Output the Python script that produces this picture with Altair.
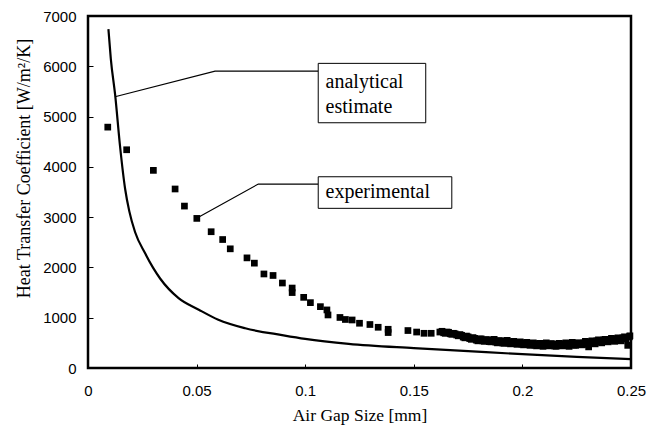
import altair as alt
import pandas as pd

# ---------------- data ----------------
x_ticks = [0, 0.05, 0.1, 0.15, 0.2, 0.25]
y_ticks = [0, 1000, 2000, 3000, 4000, 5000, 6000, 7000]

# analytical estimate (solid curve)
ana_x = [0.0094, 0.0105, 0.0125, 0.0148, 0.0171, 0.0190, 0.0217, 0.0263, 0.0300,
         0.0332, 0.0417, 0.0510, 0.0600, 0.0724, 0.0900, 0.1000, 0.1200, 0.1500,
         0.1750, 0.2000, 0.2250, 0.2500]
ana_y = [6740, 6150, 5430, 4390, 3560, 3120, 2700, 2280, 1990,
         1780, 1390, 1160, 960, 790, 650, 580, 480, 395,
         335, 275, 220, 175]

# experimental (square markers) - sparse part
exp_x = [0.0091, 0.0178, 0.0301, 0.0401, 0.0444, 0.0501, 0.0567, 0.0620, 0.0655,
         0.0732, 0.0766, 0.0810, 0.0852, 0.0895, 0.0940, 0.0940, 0.0993, 0.1024,
         0.1070, 0.1100, 0.1105, 0.1160, 0.1185, 0.1216, 0.1250, 0.1298, 0.1336,
         0.1382, 0.1382, 0.1473, 0.1513, 0.1547, 0.1580, 0.1620]
exp_y = [4790, 4340, 3930, 3560, 3220, 2975, 2710, 2555, 2370,
         2190, 2085, 1870, 1840, 1690, 1590, 1500, 1405, 1300,
         1220, 1155, 1055, 1005, 965, 955, 890, 865, 810,
         770, 705, 745, 715, 690, 690, 715]

# experimental - dense part (two interleaved runs of readings)
cloud_x = [0.1630, 0.1645, 0.1660, 0.1675, 0.1690, 0.1705, 0.1720, 0.1735, 0.1750,
           0.1765, 0.1780, 0.1795, 0.1810, 0.1825, 0.1840, 0.1855, 0.1870, 0.1885,
           0.1900, 0.1915, 0.1930, 0.1945, 0.1960, 0.1975, 0.1990, 0.2005, 0.2020,
           0.2035, 0.2050, 0.2065, 0.2080, 0.2095, 0.2110, 0.2125, 0.2140, 0.2155,
           0.2170, 0.2185, 0.2200, 0.2215, 0.2230, 0.2245, 0.2260, 0.2275, 0.2290,
           0.2305, 0.2320, 0.2335, 0.2350, 0.2365, 0.2380, 0.2395, 0.2410, 0.2425,
           0.2440, 0.2455, 0.2470, 0.2485, 0.2495]
cloud_y = [730, 690, 710, 670, 680, 640, 650, 600, 620,
           570, 590, 540, 580, 530, 560, 520, 570, 500,
           540, 490, 550, 480, 530, 470, 520, 460, 510,
           450, 500, 440, 490, 430, 500, 440, 480, 430,
           490, 440, 500, 430, 510, 450, 500, 460, 530,
           420, 540, 480, 560, 500, 570, 520, 590, 530,
           600, 540, 620, 450, 640]

cloud2_x = [0.16375, 0.16525, 0.16675, 0.16825, 0.16975, 0.17125, 0.17275, 0.17425,
            0.17575, 0.17725, 0.17875, 0.18025, 0.18175, 0.18325, 0.18475, 0.18625,
            0.18775, 0.18925, 0.19075, 0.19225, 0.19375, 0.19525, 0.19675, 0.19825,
            0.19975, 0.20125, 0.20275, 0.20425, 0.20575, 0.20725, 0.20875, 0.21025,
            0.21175, 0.21325, 0.21475, 0.21625, 0.21775, 0.21925, 0.22075, 0.22225,
            0.22375, 0.22525, 0.22675, 0.22825, 0.22975, 0.23125, 0.23275, 0.23425,
            0.23575, 0.23725, 0.23875, 0.24025, 0.24175, 0.24325, 0.24475, 0.24625,
            0.24775, 0.24925]
cloud2_y = [700, 715, 680, 690, 655, 665, 615, 635,
            585, 605, 555, 575, 540, 565, 525, 555,
            515, 545, 500, 535, 495, 520, 485, 510,
            475, 500, 465, 490, 455, 485, 450, 480,
            445, 485, 440, 470, 445, 480, 450, 490,
            455, 495, 465, 500, 470, 520, 495, 540,
            515, 555, 535, 570, 545, 580, 560, 600,
            580, 620]

# annotation labels
label_text = ["analytical", "estimate", "experimental"]
label_x = [0.1094, 0.1094, 0.1094]
label_y = [5561, 5064, 3374]

box_x = [0.1060, 0.1060]
box_x2 = [0.1555, 0.1675]
box_y = [6058, 3803]
box_y2 = [4877, 3175]

lead_grp = ["a", "a", "a", "e", "e", "e"]
lead_x = [0.01243, 0.0585, 0.1060, 0.0500, 0.0784, 0.1060]
lead_y = [5394, 5905, 5905, 2976, 3658, 3658]

# ---------------- tables ----------------
ana_df = pd.DataFrame({"x": ana_x, "y": ana_y})
exp_df = pd.DataFrame({"x": exp_x + cloud_x + cloud2_x, "y": exp_y + cloud_y + cloud2_y})
lab_df = pd.DataFrame({"x": label_x, "y": label_y, "t": label_text})
box_df = pd.DataFrame({"x": box_x, "x2": box_x2, "y": box_y, "y2": box_y2})
lead_df = pd.DataFrame({"x": lead_x, "y": lead_y, "g": lead_grp,
                        "o": list(range(len(lead_x)))})

xs = alt.Scale(domain=[0, 0.25], nice=False, zero=False)
ys = alt.Scale(domain=[0, 7000], nice=False)

x_axis = alt.Axis(title="Air Gap Size [mm]", values=x_ticks, format="~g",
                  offset=-4, tickSize=4, tickColor="black", tickWidth=1,
                  domain=False, grid=False,
                  labelFont="Liberation Sans", labelFontSize=15, labelColor="black",
                  labelPadding=15, labelFlush=False,
                  titleFont="Liberation Serif", titleFontSize=17.5,
                  titleFontWeight="normal", titleColor="black",
                  titleY=51, titleBaseline="middle")
y_axis = alt.Axis(title="Heat Transfer Coefficient [W/m²/K]", values=y_ticks, format="d",
                  offset=-5, tickSize=5, tickColor="black", tickWidth=1,
                  domain=False, grid=False,
                  labelFont="Liberation Sans", labelFontSize=15, labelColor="black",
                  labelPadding=12, labelFlush=False,
                  titleFont="Liberation Serif", titleFontSize=18,
                  titleFontWeight="normal", titleColor="black",
                  titleX=-69, titleY=152, titleBaseline="middle")

X = alt.X("x:Q", scale=xs, axis=x_axis)
Y = alt.Y("y:Q", scale=ys, axis=y_axis)

curve = alt.Chart(ana_df).mark_line(color="black", strokeWidth=2.2,
                                    interpolate="monotone").encode(x=X, y=Y)

points = alt.Chart(exp_df).mark_square(color="black", size=45, opacity=1).encode(x=X, y=Y)

leaders = alt.Chart(lead_df).mark_line(color="black", strokeWidth=1.2).encode(
    x=X, y=Y, detail="g:N", order="o:Q")

boxes = alt.Chart(box_df).mark_rect(fill="white", stroke="black", strokeWidth=1).encode(
    x=X, x2="x2:Q", y=Y, y2="y2:Q")

labels = alt.Chart(lab_df).mark_text(font="Liberation Serif", fontSize=20, align="left",
                                     baseline="alphabetic", color="black").encode(
    x=X, y=Y, text="t:N")

chart = alt.layer(curve, points, leaders, boxes, labels).properties(
    width=543, height=352,
    autosize=alt.AutoSizeParams(type="none"),
    padding={"left": 88, "top": 16, "right": 31, "bottom": 60},
    background="white",
).configure_view(stroke="black", strokeWidth=2.5)

chart.save("out.html", embed_options={"renderer": "svg", "actions": False})
